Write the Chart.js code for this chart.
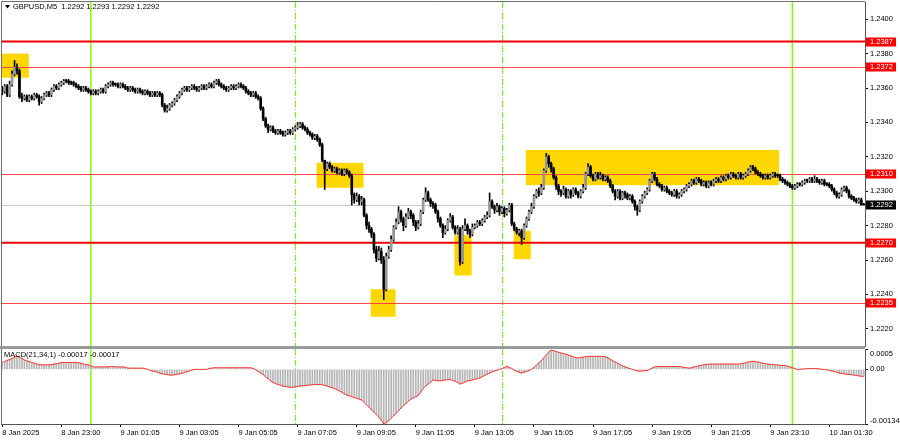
<!DOCTYPE html>
<html>
<head>
<meta charset="utf-8">
<script src="https://cdn.jsdelivr.net/npm/chart.js@4.4.1/dist/chart.umd.min.js"></script>
<style>
  html, body { margin:0; padding:0; background:#fff; }
  #wrap { position:relative; width:900px; height:441px; overflow:hidden; }
  #main { position:absolute; left:0; top:0; }
  #macd { position:absolute; left:0; top:348px; }
</style>
</head>
<body>
<div id="wrap">
  <canvas id="main" width="900" height="348"></canvas>
  <canvas id="macd" width="900" height="93"></canvas>
</div>
<script>
// GBPUSD M5, prices in pips above 1.2200
var base = 1.2200;
var firstOpen = 160;
var closes = [
  158,161,156,162,168,172,170,155,154,155, 153,155,154,156,155,152,154,156,157,156,
  159,161,160,162,163,164,164,163,163,162, 161,160,159,160,159,158,157,158,157,158,
  159,158,161,162,163,162,162,161,162,161, 160,159,160,159,158,159,158,157,158,157,
  156,157,156,157,156,150,147,148,150,151, 153,155,157,159,160,159,160,161,160,159,
  160,161,160,161,162,161,163,164,162,161, 160,159,160,161,160,161,162,161,160,158,
  157,156,157,155,154,148,142,138,136,137, 135,134,135,134,133,134,135,134,136,137,
  138,139,137,136,134,133,131,132,130,127, 118,113,116,114,112,113,111,112,110,112,
  111,109,98,95,97,94,95,86,80,78,         75,66,61,65,60,43,62,66,72,79,
  82,88,84,80,85,88,86,82,79,81,           88,95,99,95,93,92,88,84,80,76,
  78,83,85,79,76,78,59,78,80,77,           75,79,80,82,81,83,85,86,94,91,
  89,91,88,90,87,89,92,81,78,76,           77,73,80,84,88,91,97,100,99,102,
  112,120,116,113,108,103,100,99,101,97,   100,98,101,99,97,100,102,110,114,109,
  107,110,108,109,107,108,106,103,100,97,  100,96,99,98,96,97,94,91,89,94,
  97,99,101,106,110,107,104,103,101,102,   100,99,98,100,97,98,100,101,103,104,
  106,105,107,106,104,105,103,105,104,106, 107,106,108,107,109,108,110,109,108,110,
  108,109,110,112,114,113,111,110,109,108, 109,108,109,110,109,109,107,106,105,104,
  103,102,103,104,104,105,106,106,107,106, 107,106,105,106,104,104,103,101,99,97,
  98,101,102,100,97,96,95,94,95,92,        92
];
var highs = [
  161,162,162,164,170,176,174,171,157,156, 156,156,156,157,157,156,155,157,158,158,
  160,162,162,163,164,165,165,165,164,164, 163,162,161,161,161,160,159,159,159,159,
  160,160,162,163,164,164,163,163,163,163, 162,161,161,161,160,160,160,159,159,159,
  158,158,158,158,158,157,151,150,151,152, 154,156,158,160,161,161,161,162,162,161,
  161,162,162,162,163,163,164,165,165,163, 162,161,161,162,162,162,163,163,162,161,
  159,158,158,158,156,155,149,143,139,138, 138,136,136,136,135,135,136,136,137,138,
  140,140,140,138,137,135,134,133,133,131, 128,118,117,117,115,114,114,113,113,113,
  113,112,110,99,99,98,97,96,87,82,        79,76,68,68,67,62,64,68,74,80,
  84,91,89,85,87,90,89,87,83,83,           89,96,102,100,96,94,93,89,85,81,
  80,84,87,86,80,80,79,80,84,81,           78,81,81,83,83,84,86,88,99,95,
  92,93,92,91,91,90,93,93,82,79,           78,78,81,85,89,93,98,101,102,104,
  113,122,121,117,114,109,104,101,103,102, 101,101,102,102,100,101,104,111,116,115,
  110,111,111,111,110,109,109,107,104,101, 101,101,100,100,99,98,98,95,92,95,
  98,100,102,107,111,111,108,105,104,103,  103,101,100,101,101,99,101,102,104,105,
  107,107,108,108,107,106,106,106,106,107, 108,108,109,109,110,110,111,111,110,111,
  111,110,111,113,115,115,114,112,111,110, 110,110,110,111,111,110,110,108,107,106,
  105,104,104,105,105,106,107,107,108,108, 109,108,107,107,107,105,105,104,102,100,
  99,102,103,103,101,98,97,96,96,96,       93
];
var lows = [
  156,157,155,155,161,167,168,154,152,153, 152,152,153,153,154,150,151,153,155,155,
  155,158,159,159,161,162,163,162,162,161, 160,159,158,158,158,157,156,156,156,156,
  157,157,157,160,161,161,161,160,160,160, 159,158,158,158,157,157,157,156,156,156,
  155,155,155,155,155,149,146,146,147,149, 150,152,154,156,158,158,158,159,159,158,
  158,159,159,159,160,160,160,162,161,160, 159,158,158,159,159,159,160,160,159,157,
  156,155,155,154,153,147,141,137,134,135, 134,133,133,133,132,132,133,133,133,135,
  136,137,136,135,133,132,130,130,129,126, 117,101,112,113,111,111,110,110,109,109,
  110,108,92,93,94,92,92,85,78,76,         73,64,59,60,58,37,42,61,65,71,
  78,81,82,77,79,84,84,80,77,78,           80,87,94,94,91,90,87,82,79,73,
  75,77,82,78,75,75,57,58,77,75,           73,74,78,79,80,80,82,84,85,90,
  87,88,86,87,85,86,88,80,77,75,           74,69,72,79,83,87,90,96,97,98,
  101,111,114,111,107,101,98,97,98,96,     96,96,97,98,96,96,99,101,109,108,
  106,106,107,107,106,106,105,102,99,95,   96,95,95,96,95,95,93,89,86,88,
  93,96,98,100,105,106,103,102,100,100,    99,98,97,97,96,96,97,99,100,102,
  103,104,104,105,103,103,102,102,103,103, 105,105,105,106,106,107,107,108,107,107,
  107,107,108,109,111,112,110,109,108,107, 107,107,107,108,108,108,106,105,104,103,
  102,101,101,102,103,103,104,105,105,105, 105,105,104,104,103,103,102,100,98,96,
  96,97,100,99,96,95,94,93,93,92,          92
];
// MACD(21,34,1) main line, in units of 0.00001
var macdVals = [
  17,19,22,24,27,30,32,30,27,23, 21,19,17,15,13,12,11,11,11,11,
  12,13,14,15,17,17,17,17,17,17, 17,16,15,13,12,11,8,6,6,6,
  6,6,6,6,7,7,6,6,6,6,           5,3,3,3,3,3,3,3,2,0,
  -2,-4,-5,-7,-9,-11,-12,-13,-14,-14, -13,-12,-11,-10,-8,-6,-4,-2,0,0,
  0,0,0,0,2,3,4,4,4,4,           4,4,4,4,4,4,4,4,4,4,
  4,4,2,-1,-5,-9,-13,-18,-23,-28, -32,-35,-37,-39,-41,-42,-43,-44,-44,-43,
  -42,-41,-40,-40,-39,-38,-38,-37,-37,-37, -38,-39,-41,-43,-45,-47,-50,-53,-56,-60,
  -63,-65,-67,-69,-71,-73,-75,-81,-87,-93, -99,-105,-111,-117,-124,-134,-131,-126,-120,-114,
  -108,-101,-95,-89,-84,-78,-73,-70,-67,-64, -56,-47,-41,-36,-31,-26,-27,-28,-28,-27,
  -26,-25,-25,-27,-29,-32,-36,-34,-31,-28, -28,-26,-24,-23,-21,-18,-15,-12,-9,-6,
  -4,-2,0,2,5,7,5,2,-2,-5,       -7,-9,-7,-5,-3,0,5,10,16,21,
  28,35,42,47,46,44,42,40,39,37, 35,33,31,29,28,29,30,31,32,32,
  32,32,32,32,32,31,28,25,21,18, 15,12,9,6,4,2,0,-2,-4,-4,
  -4,-3,-3,0,3,6,7,7,7,7,        7,7,7,7,7,7,6,5,4,3,
  4,6,7,9,10,11,12,13,13,13,     13,13,13,13,13,13,13,13,13,13,
  14,15,16,18,19,20,19,18,17,15, 14,13,12,12,11,11,10,10,9,8,
  6,4,2,0,0,1,1,2,2,2,           2,2,1,0,0,-1,-2,-4,-5,-7,
  -9,-10,-11,-12,-12,-13,-14,-15,-16,-17, -17
];
var tickBars = [0,24,48,72,96,120,144,168,192,216,240,264,288,312,336];
var tickText = ['8 Jan 2025','8 Jan 23:00','9 Jan 01:05','9 Jan 03:05','9 Jan 05:05','9 Jan 07:05',
  '9 Jan 09:05','9 Jan 11:05','9 Jan 13:05','9 Jan 15:05','9 Jan 17:05','9 Jan 19:05',
  '9 Jan 21:05','9 Jan 23:10','10 Jan 01:30'];
var priceTicks = [1.2220,1.2240,1.2260,1.2280,1.2300,1.2320,1.2340,1.2360,1.2380,1.2400];
var levels = [1.2387,1.2372,1.2310,1.2270,1.2235];
var strongLevels = [1.2387,1.2270];
var dayLines = [36,321];
var sessionLines = [119,203];
// yellow zones: [first bar, last bar, low pips, high pips]
var zones = [
  [-0.5,10.8,166,180],
  [127.7,146.8,102,116.5],
  [149.7,159.8,27,43],
  [183.7,190.7,51,74.5],
  [207.8,214.7,60.5,77],
  [212.7,315.6,103.5,124]
];
// MACD window: max, zero level, min
var macdTicks = [0.0005,0,-0.00134];
var macdTickText = ['0.0005','0.00','-0.00134'];

var FONT = 'Liberation Sans';
Chart.defaults.font.family = FONT;
Chart.defaults.font.size = 7.5;
Chart.defaults.color = '#000';

function px(p) { return +(base + p / 10000).toFixed(5); }

var labels = [];
var opens = [];
for (var i = 0; i < closes.length; i++) {
  var k = tickBars.indexOf(i);
  labels.push(k >= 0 ? tickText[k] : '');
  opens.push(i === 0 ? firstOpen : closes[i - 1]);
}
var bodies = closes.map(function(c, i) { return [px(opens[i]), px(c)]; });
var wicks = closes.map(function(c, i) { return [px(lows[i]), px(highs[i])]; });
var bodyColors = closes.map(function(c, i) { return c > opens[i] ? '#999999' : '#000000'; });
var lastPrice = px(closes[closes.length - 1]);

// no extra room for the end labels
function noPad(s) { s.paddingTop = 0; s.paddingBottom = 0; s.paddingLeft = 0; s.paddingRight = 0; }

function drawVLines(chart) {
  var ctx = chart.ctx, a = chart.chartArea, x = chart.scales.x;
  ctx.save();
  ctx.strokeStyle = '#7fff00';
  ctx.lineWidth = 1.5;
  dayLines.forEach(function(b) {
    var p = x.getPixelForValue(b);
    ctx.beginPath(); ctx.moveTo(p, a.top); ctx.lineTo(p, a.bottom); ctx.stroke();
  });
  ctx.strokeStyle = '#66ff00';
  ctx.lineWidth = 1;
  ctx.setLineDash([6, 2, 1, 2]);
  sessionLines.forEach(function(b) {
    var p = Math.round(x.getPixelForValue(b)) + 0.5;
    ctx.beginPath(); ctx.moveTo(p, a.top); ctx.lineTo(p, a.bottom); ctx.stroke();
  });
  ctx.restore();
}

function axisBox(ctx, y, text, bg) {
  ctx.fillStyle = bg;
  ctx.fillRect(866, Math.round(y) - 4.5, 30, 9);
  ctx.fillStyle = '#fff';
  ctx.textAlign = 'left';
  ctx.textBaseline = 'middle';
  ctx.fillText(text, 870, Math.round(y));
}

var mainMarks = {
  id: 'mainMarks',
  beforeDatasetsDraw: function(chart) {
    var ctx = chart.ctx, a = chart.chartArea, x = chart.scales.x, y = chart.scales.y;
    ctx.save();
    ctx.beginPath(); ctx.rect(a.left, a.top, a.right - a.left, a.bottom - a.top); ctx.clip();
    ctx.fillStyle = '#ffd700';
    zones.forEach(function(z) {
      var x0 = x.getPixelForValue(z[0]), x1 = x.getPixelForValue(z[1]);
      var y0 = y.getPixelForValue(px(z[3])), y1 = y.getPixelForValue(px(z[2]));
      ctx.fillRect(x0, y0, x1 - x0, y1 - y0);
    });
    ctx.restore();
    drawVLines(chart);
    ctx.save();
    var yb = Math.round(y.getPixelForValue(lastPrice)) + 0.5;
    ctx.strokeStyle = '#c8c8c8'; ctx.lineWidth = 1;
    ctx.beginPath(); ctx.moveTo(a.left, yb); ctx.lineTo(a.right, yb); ctx.stroke();
    levels.forEach(function(l) {
      var strong = strongLevels.indexOf(l) >= 0;
      var yl = y.getPixelForValue(l);
      ctx.strokeStyle = strong ? '#f00000' : '#ff4545';
      ctx.lineWidth = strong ? 2 : 1;
      if (!strong) yl = Math.round(yl) + 0.5;
      ctx.beginPath(); ctx.moveTo(a.left, yl); ctx.lineTo(a.right, yl); ctx.stroke();
    });
    ctx.restore();
  },
  afterDraw: function(chart) {
    var ctx = chart.ctx, a = chart.chartArea, y = chart.scales.y;
    ctx.save();
    ctx.strokeStyle = '#6e6e6e'; ctx.lineWidth = 1;
    ctx.beginPath();
    ctx.moveTo(1.5, a.bottom); ctx.lineTo(1.5, 1.5); ctx.lineTo(a.right, 1.5);
    ctx.stroke();
    ctx.fillStyle = '#9a9a9a';
    ctx.fillRect(0, 346, a.right, 2);
    ctx.font = '7.5px "' + FONT + '"';
    levels.forEach(function(l) { axisBox(ctx, y.getPixelForValue(l), l.toFixed(4), '#ff0000'); });
    axisBox(ctx, y.getPixelForValue(lastPrice), lastPrice.toFixed(4), '#000');
    ctx.fillStyle = '#000';
    ctx.beginPath(); ctx.moveTo(5, 5); ctx.lineTo(10, 5); ctx.lineTo(7.5, 8.5); ctx.closePath(); ctx.fill();
    ctx.textAlign = 'left'; ctx.textBaseline = 'middle';
    var last = closes.length - 1;
    ctx.fillText('GBPUSD,M5  ' + [opens[last], highs[last], lows[last], closes[last]].map(function(v) {
      return px(v).toFixed(4); }).join(' '), 13, 7);
    ctx.restore();
  }
};

var macdMarks = {
  id: 'macdMarks',
  beforeDatasetsDraw: function(chart) { drawVLines(chart); },
  afterDraw: function(chart) {
    var ctx = chart.ctx, a = chart.chartArea;
    ctx.save();
    ctx.fillStyle = '#9a9a9a';
    ctx.fillRect(0, 0, a.right, 1);
    ctx.strokeStyle = '#6e6e6e'; ctx.lineWidth = 1;
    ctx.beginPath(); ctx.moveTo(1.5, 0); ctx.lineTo(1.5, a.bottom); ctx.stroke();
    ctx.font = '7.5px "' + FONT + '"';
    ctx.fillStyle = '#000'; ctx.textAlign = 'left'; ctx.textBaseline = 'middle';
    var v = (macdVals[macdVals.length - 1] / 100000).toFixed(5);
    ctx.fillText('MACD(21,34,1) ' + v + ' ' + v, 4, 7);
    // window max / min labels sit inside the panel edges
    ctx.textBaseline = 'top';
    ctx.fillText(macdTickText[0], a.right + 5, a.top + 1);
    ctx.textBaseline = 'bottom';
    ctx.fillText(macdTickText[2], a.right + 5, a.bottom + 1);
    ctx.restore();
  }
};

new Chart(document.getElementById('main'), {
  type: 'bar',
  data: {
    labels: labels,
    datasets: [
      { data: bodies, backgroundColor: bodyColors, barThickness: 2, minBarLength: 1, grouped: false, borderWidth: 0 },
      { data: wicks, backgroundColor: '#000', barThickness: 1, grouped: false, borderWidth: 0 }
    ]
  },
  options: {
    responsive: false,
    animation: false,
    layout: { padding: { left: 1, top: 2, right: 0, bottom: 2 } },
    plugins: { legend: { display: false }, tooltip: { enabled: false } },
    scales: {
      x: { display: false },
      y: {
        position: 'right', min: 1.2210, max: 1.2410,
        afterFit: function(s) { s.width = 35; noPad(s); },
        afterBuildTicks: function(s) { s.ticks = priceTicks.map(function(v) { return { value: v }; }); },
        ticks: { padding: 2, callback: function(v) { return v.toFixed(4); } },
        grid: { drawOnChartArea: false, tickLength: 3, color: '#000' },
        border: { color: '#555' }
      }
    }
  },
  plugins: [mainMarks]
});

new Chart(document.getElementById('macd'), {
  type: 'bar',
  data: {
    labels: labels,
    datasets: [
      { type: 'line', data: macdVals.map(function(v) { return v / 100000; }), borderColor: '#ff3030',
        borderWidth: 1, pointRadius: 0, tension: 0 },
      { data: macdVals.map(function(v) { return v / 100000; }), backgroundColor: '#b4b4b4', barThickness: 1 }
    ]
  },
  options: {
    responsive: false,
    animation: false,
    layout: { padding: { left: 1, top: 1, right: 0, bottom: 0 } },
    plugins: { legend: { display: false }, tooltip: { enabled: false } },
    scales: {
      x: {
        afterFit: function(s) { s.height = 17; noPad(s); },
        afterBuildTicks: function(s) { s.ticks = tickBars.map(function(b) { return { value: b }; }); },
        ticks: { align: 'start', autoSkip: false, maxRotation: 0, minRotation: 0, padding: 1 },
        grid: { drawOnChartArea: false, tickLength: 3, color: '#000', offset: false },
        border: { color: '#555' }
      },
      y: {
        position: 'right', min: macdTicks[2], max: macdTicks[0],
        afterFit: function(s) { s.width = 35; noPad(s); },
        afterBuildTicks: function(s) { s.ticks = macdTicks.map(function(v) { return { value: v }; }); },
        ticks: { padding: 2, callback: function(v, idx) { return idx === 1 ? macdTickText[1] : ''; } },
        grid: { drawOnChartArea: false, tickLength: 3, color: '#000' },
        border: { color: '#555' }
      }
    }
  },
  plugins: [macdMarks]
});
</script>
</body>
</html>
